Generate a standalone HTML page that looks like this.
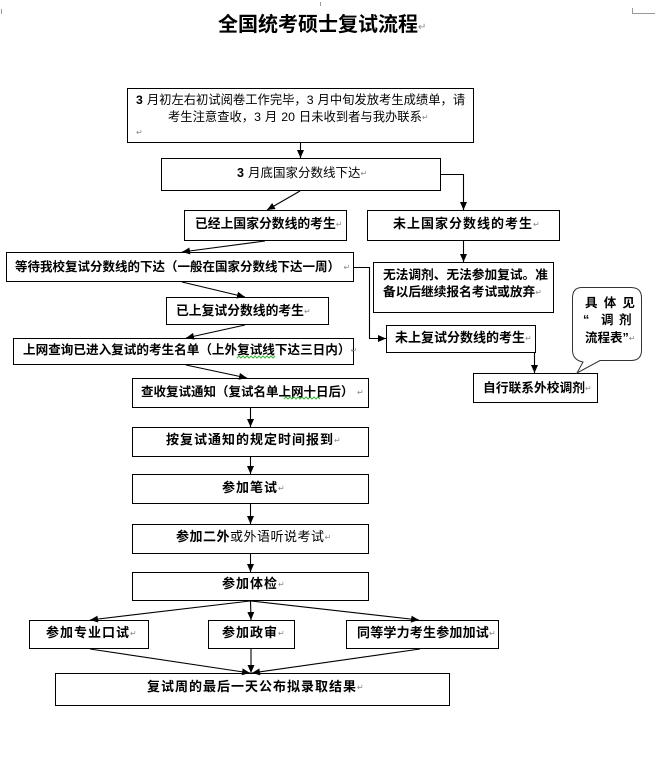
<!DOCTYPE html>
<html><head><meta charset="utf-8">
<style>
html,body{margin:0;padding:0;background:#fff;}
body{width:655px;height:761px;position:relative;overflow:hidden;font-family:"Liberation Sans","Noto Sans CJK SC",sans-serif;color:#000;}
svg{position:absolute;left:0;top:0;}
.t{position:absolute;white-space:nowrap;line-height:16px;height:16px;font-size:12.5px;}
.b{font-weight:bold;}
.r{font-family:"DejaVu Sans",sans-serif;font-size:8px;color:#8a8a8a;font-weight:normal;letter-spacing:0;vertical-align:1px;}
.s{display:inline-block;width:4px;}
</style></head><body>
<svg width="655" height="761" viewBox="0 0 655 761">
<defs>
<marker id="a" markerWidth="8" markerHeight="7" refX="8" refY="3.5" orient="auto" markerUnits="userSpaceOnUse"><path d="M0,0 L8,3.5 L0,7 z" fill="#000"/></marker>
</defs>
<g stroke="#999" stroke-width="1" fill="none" shape-rendering="crispEdges">
<line x1="1.5" y1="9" x2="1.5" y2="14"/>
<line x1="632.5" y1="8" x2="632.5" y2="13.5"/>
<line x1="632" y1="13.5" x2="655" y2="13.5"/>
<line x1="320.5" y1="2" x2="320.5" y2="6"/>
</g>
<g stroke="#000" stroke-width="1" fill="#fff" shape-rendering="crispEdges">
<rect x="127.5" y="88.5" width="346" height="54"/>
<rect x="161.5" y="158.5" width="279" height="32"/>
<rect x="184.5" y="210.5" width="162" height="30"/>
<rect x="367.5" y="210.5" width="192" height="30"/>
<rect x="6.5" y="252.5" width="347" height="29"/>
<rect x="373.5" y="262.5" width="180" height="50"/>
<rect x="386.5" y="325.5" width="149" height="27"/>
<rect x="166.5" y="297.5" width="162" height="27"/>
<rect x="13.5" y="338.5" width="340" height="26"/>
<rect x="132.5" y="378.5" width="236" height="29"/>
<rect x="473.5" y="373.5" width="124" height="29"/>
<rect x="132.5" y="427.5" width="236" height="29"/>
<rect x="132.5" y="474.5" width="236" height="29"/>
<rect x="132.5" y="524.5" width="236" height="29"/>
<rect x="132.5" y="572.5" width="236" height="28"/>
<rect x="29.5" y="620.5" width="119" height="28"/>
<rect x="208.5" y="620.5" width="86" height="28"/>
<rect x="346.5" y="620.5" width="152" height="28"/>
<rect x="55.5" y="673.5" width="394" height="32"/>
</g>
<path d="M582,287.5 H631 Q641.5,287.5 641.5,298 V350 Q641.5,360.5 631,360.5 H600 L577,373 L583,362 Q572.5,360 572.5,350 V298 Q572.5,287.5 582,287.5 Z" fill="#fff" stroke="#333" stroke-width="1"/>
<g stroke="#000" stroke-width="1.1" fill="none">
<line x1="300.5" y1="143" x2="300.5" y2="158" marker-end="url(#a)"/>
<polyline points="441,174.5 463.5,174.5 463.5,210" marker-end="url(#a)"/>
<line x1="300" y1="191" x2="267" y2="210" marker-end="url(#a)"/>
<line x1="265" y1="241" x2="182" y2="252" marker-end="url(#a)"/>
<line x1="463.5" y1="241" x2="463.5" y2="262" marker-end="url(#a)"/>
<polyline points="354,267.5 369.5,267.5 369.5,338.5 386,338.5" marker-end="url(#a)"/>
<line x1="182" y1="282" x2="245" y2="297" marker-end="url(#a)"/>
<line x1="245" y1="325" x2="186" y2="338" marker-end="url(#a)"/>
<line x1="186" y1="365" x2="247" y2="378" marker-end="url(#a)"/>
<line x1="250.5" y1="408" x2="250.5" y2="427" marker-end="url(#a)"/>
<line x1="250.5" y1="457" x2="250.5" y2="474" marker-end="url(#a)"/>
<line x1="250.5" y1="504" x2="250.5" y2="524" marker-end="url(#a)"/>
<line x1="250.5" y1="554" x2="250.5" y2="572" marker-end="url(#a)"/>
<line x1="250" y1="601" x2="90" y2="620" marker-end="url(#a)"/>
<line x1="250.5" y1="601" x2="251" y2="620" marker-end="url(#a)"/>
<line x1="251" y1="601" x2="419" y2="620" marker-end="url(#a)"/>
<line x1="90" y1="649" x2="250" y2="673" marker-end="url(#a)"/>
<line x1="251" y1="649" x2="251" y2="673" marker-end="url(#a)"/>
<line x1="420" y1="649" x2="252" y2="673" marker-end="url(#a)"/>
<line x1="534.5" y1="353" x2="534.5" y2="373" marker-end="url(#a)"/>
</g>
<g stroke="#3cb43c" stroke-width="1" fill="none">
<polyline points="237,358 239,356 241,358 243,356 245,358 247,356 249,358 251,356 253,358 255,356 257,358 259,356 261,358 263,356 265,358 267,356 269,358 271,356 273,358 275,356"/>
<polyline points="284,399 286,397 288,399 290,397 292,399 294,397 296,399 298,397 300,399 302,397 304,399 306,397 308,399 310,397 312,399 314,397 316,399 318,397 320,399"/>
</g>
</svg>

<div class="t b" style="left:218px;top:13px;font-size:20px;line-height:24px;height:24px;">全国统考硕士复试流程<span class="r" style="font-size:10px">↵</span></div>

<div class="t" style="left:136px;top:92px;font-size:12.3px;"><b>3</b><span class="s"></span>月初左右初试阅卷工作完毕，3<span class="s"></span>月中旬发放考生成绩单，请</div>
<div class="t" style="left:168px;top:109px;font-size:12.3px;">考生注意查收，3<span class="s"></span>月<span class="s"></span>20<span class="s"></span>日未收到者与我办联系<span class="r">↵</span></div>
<div class="t" style="left:136px;top:124px;"><span class="r">↵</span></div>

<div class="t" style="left:237px;top:165px;"><b>3</b><span class="s"></span>月底国家分数线下达<span class="r">↵</span></div>

<div class="t b" style="left:195px;top:216px;font-size:12.8px;">已经上国家分数线的考生<span class="r">↵</span></div>
<div class="t b" style="left:393px;top:216px;font-size:13px;letter-spacing:1px;">未上国家分数线的考生<span class="r">↵</span></div>

<div class="t b" style="left:15px;top:259px;font-size:12.5px;">等待我校复试分数线的下达（一般在国家分数线下达一周）&nbsp;<span class="r">↵</span></div>

<div class="t b" style="left:383px;top:267px;font-size:12.7px;">无法调剂、无法参加复试。准</div>
<div class="t b" style="left:383px;top:284px;font-size:12.7px;">备以后继续报名考试或放弃<span class="r">↵</span></div>

<div class="t b" style="left:176px;top:303px;font-size:12.8px;">已上复试分数线的考生<span class="r">↵</span></div>
<div class="t b" style="left:395px;top:330px;font-size:13px;">未上复试分数线的考生<span class="r">↵</span></div>

<div class="t b" style="left:23px;top:342px;font-size:12.6px;">上网查询已进入复试的考生名单（上外复试线下达三日内）<span class="r">↵</span></div>

<div class="t b" style="left:141px;top:384px;font-size:12.5px;">查收复试通知（复试名单上网十日后）&nbsp;<span class="r">↵</span></div>

<div class="t b" style="left:483px;top:380px;font-size:12.75px;">自行联系外校调剂<span class="r">↵</span></div>

<div class="t b" style="left:585px;top:295px;font-size:12.5px;letter-spacing:6.2px;">具体见</div>
<div class="t b" style="left:583px;top:312px;font-size:12.5px;">“</div>
<div class="t b" style="left:601px;top:312px;font-size:12.5px;letter-spacing:5.5px;">调剂</div>
<div class="t b" style="left:585px;top:330px;font-size:12.5px;">流程表”<span class="r">↵</span></div>

<div class="t b" style="left:166px;top:432px;font-size:13px;letter-spacing:1px;">按复试通知的规定时间报到<span class="r">↵</span></div>
<div class="t b" style="left:222px;top:480px;font-size:13px;letter-spacing:1px;">参加笔试<span class="r">↵</span></div>
<div class="t" style="left:176px;top:529px;font-size:13px;letter-spacing:0.5px;"><b>参加二外</b>或外语听说考试<span class="r">↵</span></div>
<div class="t b" style="left:222px;top:576px;font-size:13px;letter-spacing:1px;">参加体检<span class="r">↵</span></div>

<div class="t b" style="left:46px;top:625px;font-size:13px;letter-spacing:1px;">参加专业口试<span class="r">↵</span></div>
<div class="t b" style="left:222px;top:625px;font-size:13px;letter-spacing:1px;">参加政审<span class="r">↵</span></div>
<div class="t b" style="left:357px;top:625px;font-size:13px;letter-spacing:0.2px;">同等学力考生参加加试<span class="r">↵</span></div>

<div class="t b" style="left:147px;top:679px;font-size:13px;letter-spacing:1px;">复试周的最后一天公布拟录取结果<span class="r">↵</span></div>
</body></html>
